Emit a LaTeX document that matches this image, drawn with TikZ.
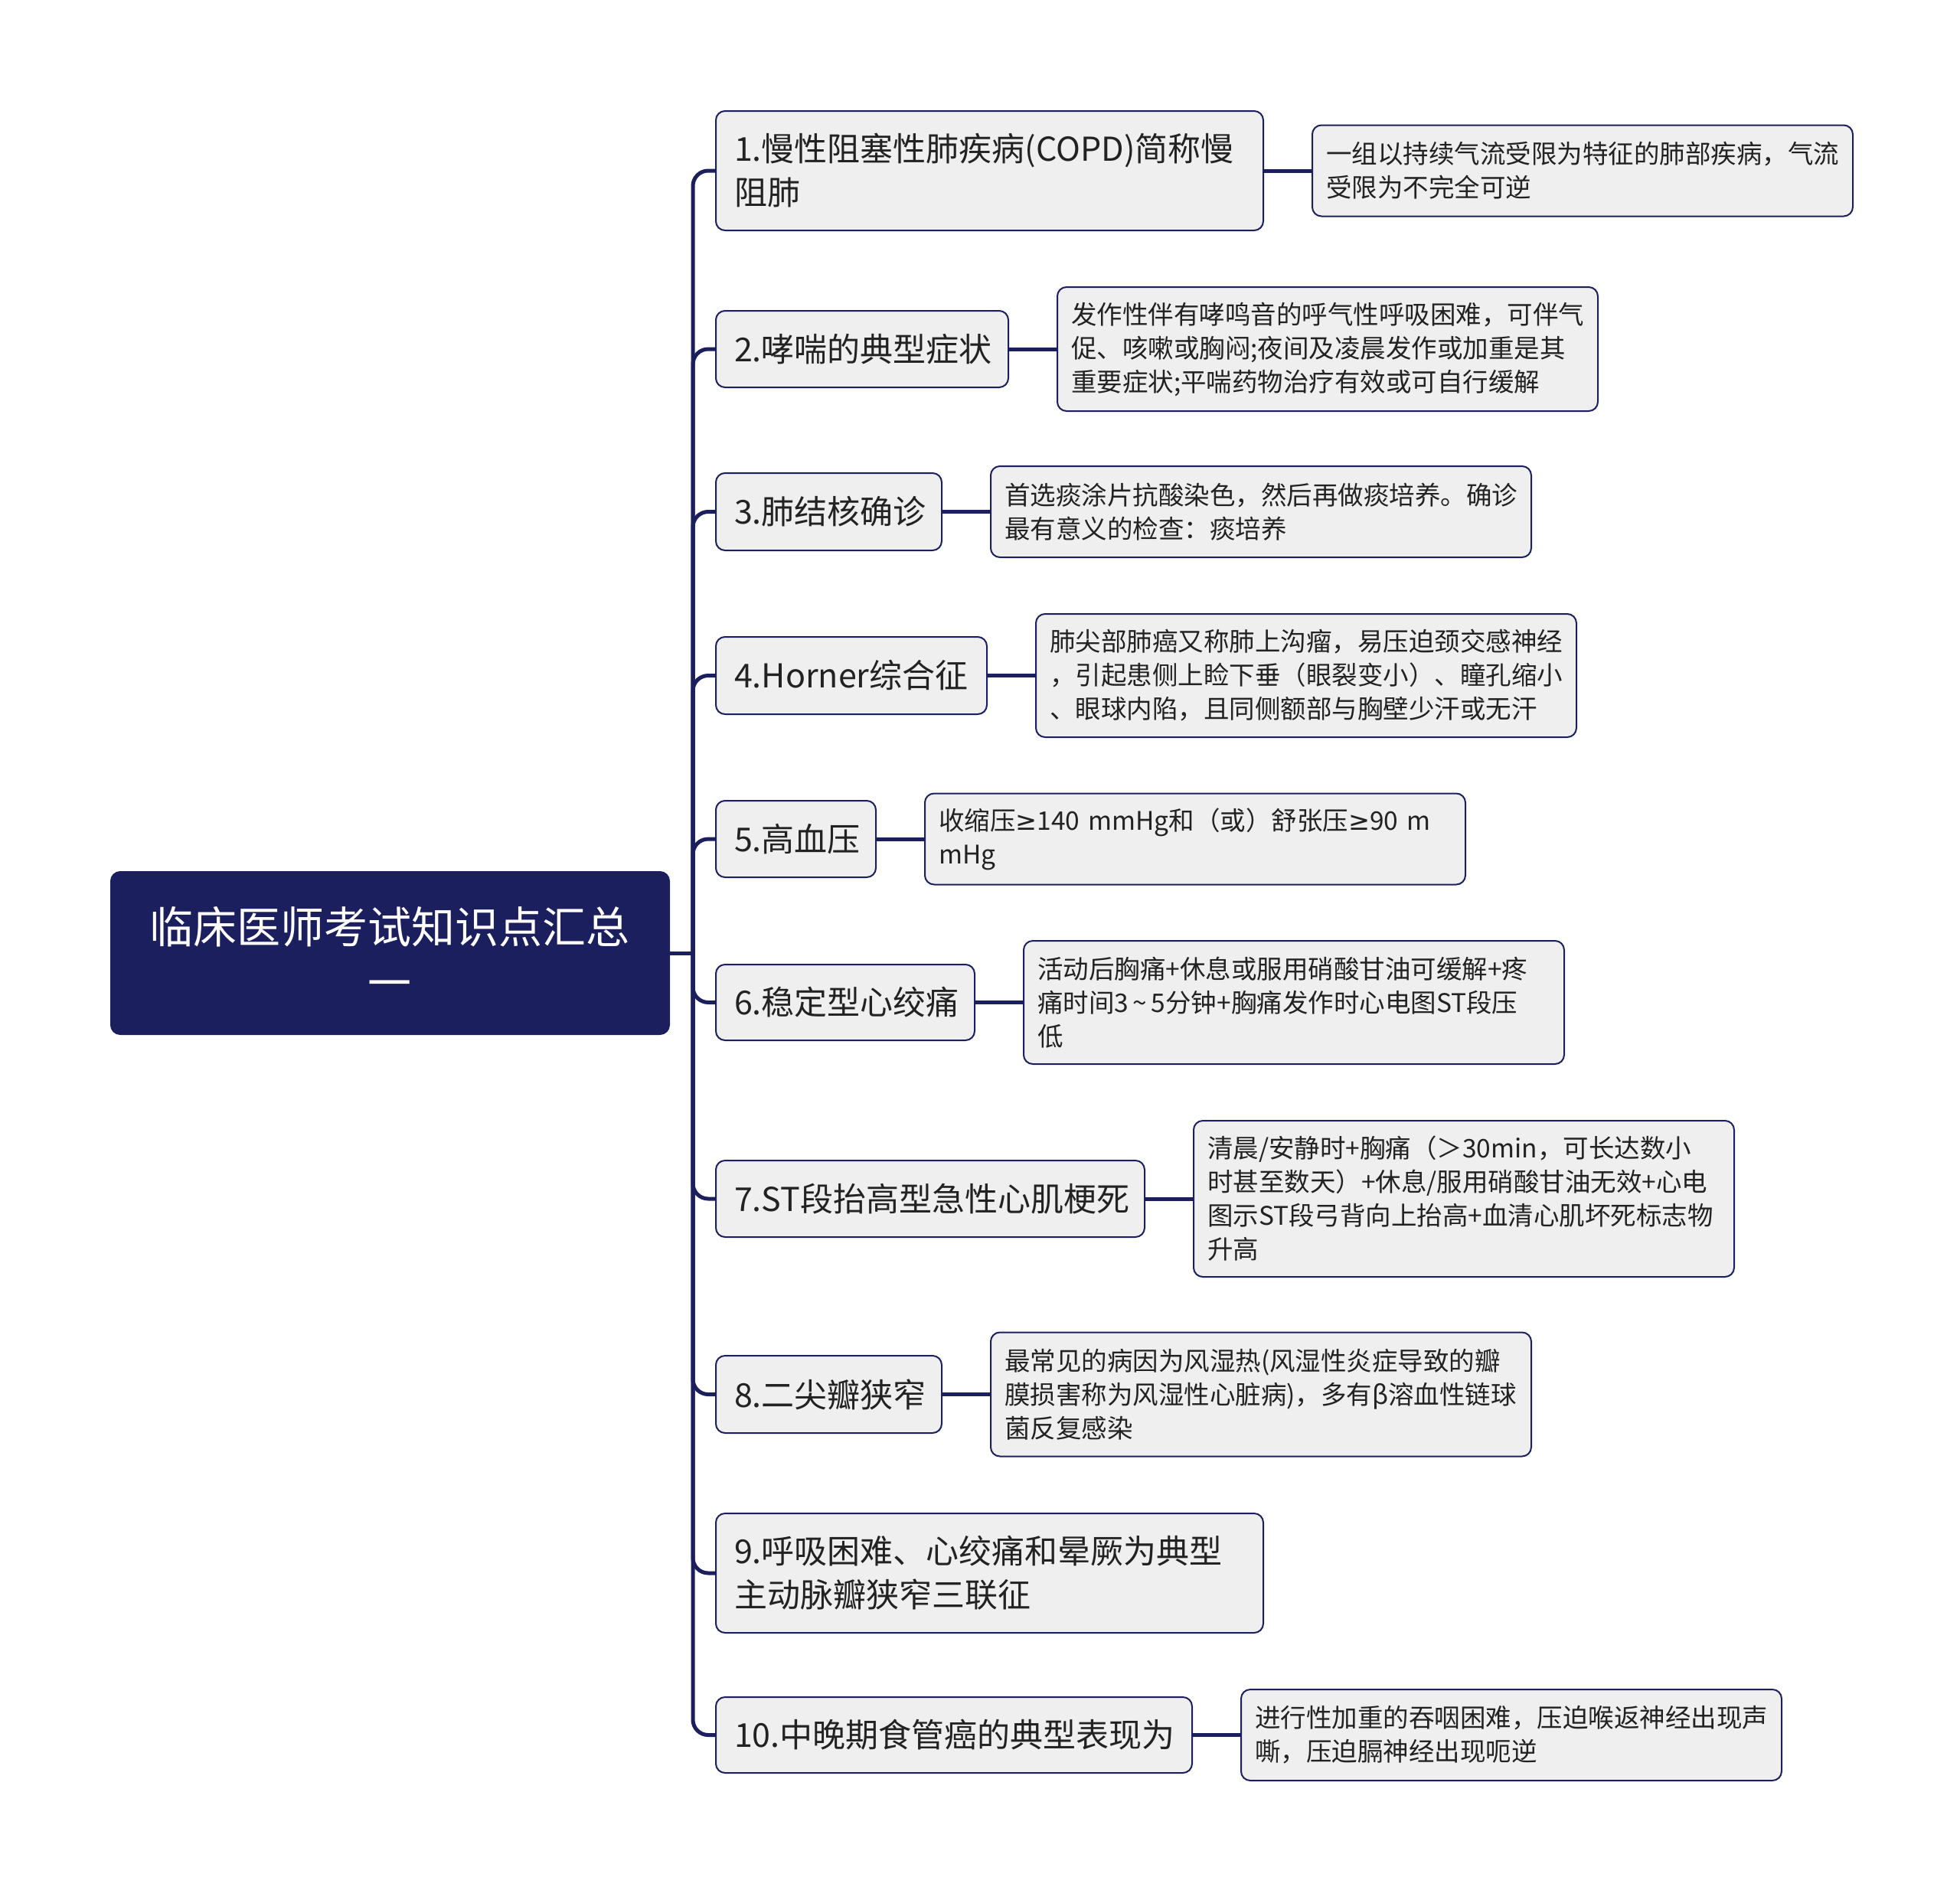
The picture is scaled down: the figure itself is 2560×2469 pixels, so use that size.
\documentclass[tikz,border=0pt]{standalone}
\usepackage{fontspec}
\setmainfont{Noto Sans CJK SC}
\newfontfamily\symfnt{DejaVu Sans}
\usetikzlibrary{positioning}
\definecolor{navy}{RGB}{27,31,94}
\definecolor{boxfill}{RGB}{239,239,240}
\definecolor{txt}{RGB}{34,34,34}
\newcommand\geqsym{{\symfnt ≥}}
\begin{document}
\begin{tikzpicture}[x=0.3pt,y=-0.3pt,
  rootbox/.style={draw=navy, fill=navy, rounded corners=3.6pt, text=white,
    font=\fontsize{17.1pt}{21.9pt}\selectfont, align=center, inner sep=0pt,
    anchor=north west, line width=0.6pt, minimum width=218.7pt, minimum height=63.6pt},
  lvone/.style={draw=navy, fill=boxfill, rounded corners=3.6pt, text=txt,
    font=\fontsize{12.9pt}{17.1pt}\selectfont, align=left, inner xsep=7.2pt,
    inner ysep=0pt, anchor=north west, line width=0.6pt},
  lvtwo/.style={draw=navy, fill=boxfill, rounded corners=3.6pt, text=txt,
    font=\fontsize{10.05pt}{13.2pt}\selectfont, text width=201pt, align=left,
    inner xsep=5.4pt, inner ysep=0pt, line width=0.6pt},
  link/.style={draw=navy, line width=1.5pt},
]
\useasboundingbox (0,0) rectangle (2560,2469);

\node[rootbox] (root) at (144,1138) {临床医师考试知识点汇总\\一};

\node[lvone, text width=200.1pt, minimum height=46.8pt] (n1) at (934,144) {1.慢性阻塞性肺疾病(COPD)简称慢\\阻肺};
\node[lvone, text width=100.2pt, minimum height=30pt] (n2) at (934,405) {2.哮喘的典型症状};
\node[lvone, text width=74.1pt, minimum height=30.3pt] (n3) at (934,617) {3.肺结核确诊};
\node[lvone, text width=91.8pt, minimum height=30.3pt] (n4) at (934,831) {4.Horner综合征};
\node[lvone, text width=48.3pt, minimum height=30pt] (n5) at (934,1045) {5.高血压};
\node[lvone, text width=87pt, minimum height=29.7pt] (n6) at (934,1259) {6.稳定型心绞痛};
\node[lvone, text width=153.6pt, minimum height=30pt] (n7) at (934,1515) {7.ST段抬高型急性心肌梗死};
\node[lvone, text width=74.1pt, minimum height=30.3pt] (n8) at (934,1770) {8.二尖瓣狭窄};
\node[lvone, text width=200.1pt, minimum height=46.8pt] (n9) at (934,1976) {9.呼吸困难、心绞痛和晕厥为典型\\主动脉瓣狭窄三联征};
\node[lvone, text width=172.2pt, minimum height=29.7pt] (n10) at (934,2216) {10.中晚期食管癌的典型表现为};

\node[lvtwo, minimum height=35.7pt, right=18.6pt of n1] (m1) {一组以持续气流受限为特征的肺部疾病，气流\\受限为不完全可逆};
\node[lvtwo, minimum height=48.6pt, right=18.6pt of n2] (m2) {发作性伴有哮鸣音的呼气性呼吸困难，可伴气\\促、咳嗽或胸闷;夜间及凌晨发作或加重是其\\重要症状;平喘药物治疗有效或可自行缓解};
\node[lvtwo, minimum height=35.7pt, right=18.6pt of n3] (m3) {首选痰涂片抗酸染色，然后再做痰培养。确诊\\最有意义的检查：痰培养};
\node[lvtwo, minimum height=48.3pt, right=18.6pt of n4] (m4) {肺尖部肺癌又称肺上沟瘤，易压迫颈交感神经\\，引起患侧上睑下垂（眼裂变小）、瞳孔缩小\\、眼球内陷，且同侧额部与胸壁少汗或无汗};
\node[lvtwo, minimum height=35.7pt, right=18.6pt of n5] (m5) {收缩压\geqsym140~mmHg和（或）舒张压\geqsym90~m\\mHg};
\node[lvtwo, minimum height=48.3pt, right=18.6pt of n6] (m6) {活动后胸痛+休息或服用硝酸甘油可缓解+疼\\痛时间3\,\textasciitilde\,5分钟+胸痛发作时心电图ST段压\\低};
\node[lvtwo, minimum height=61.2pt, right=18.6pt of n7] (m7) {清晨/安静时+胸痛（＞30min，可长达数小\\时甚至数天）+休息/服用硝酸甘油无效+心电\\图示ST段弓背向上抬高+血清心肌坏死标志物\\升高};
\node[lvtwo, minimum height=48.6pt, right=18.6pt of n8] (m8) {最常见的病因为风湿热(风湿性炎症导致的瓣\\膜损害称为风湿性心脏病)，多有β溶血性链球\\菌反复感染};
\node[lvtwo, minimum height=35.7pt, right=18.6pt of n10] (m10) {进行性加重的吞咽困难，压迫喉返神经出现声\\嘶，压迫膈神经出现呃逆};

\path (root.east) ++(30,0) coordinate (j);
\draw[link] (root.east) -- (j);
\foreach \i in {1,...,10} {
  \draw[link, rounded corners=6pt] (j) |- (n\i.west);
}
\foreach \i in {1,2,3,4,5,6,7,8,10} {
  \draw[link] (n\i.east) -- (m\i.west);
}
\end{tikzpicture}
\end{document}
